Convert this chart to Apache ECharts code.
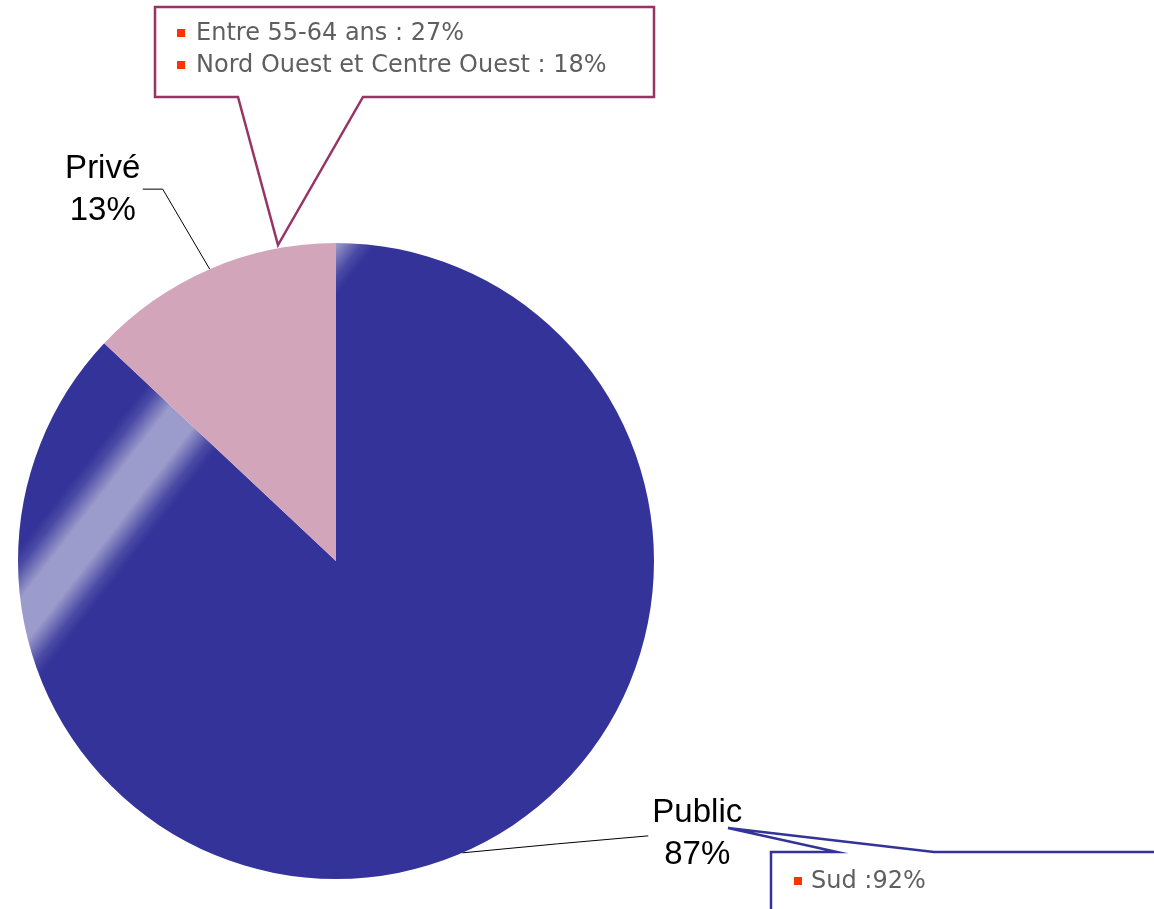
<!DOCTYPE html>
<html>
<head>
<meta charset="utf-8">
<script src="https://cdn.jsdelivr.net/npm/echarts@6/dist/echarts.min.js"></script>
<style>
html,body{margin:0;padding:0;background:#fff;}
#chart{width:1154px;height:909px;}
</style>
</head>
<body>
<div id="chart"></div>
<script>
const categories = ['Public', 'Privé'];
const values = [87, 13];
const sliceColors = ['#333399', '#D3A5BB'];
const calloutTopLines = ['Entre 55-64 ans : 27%', 'Nord Ouest et Centre Ouest : 18%'];
const calloutBottomLines = ['Sud :92%'];

const chart = echarts.init(document.getElementById('chart'), null, {renderer: 'canvas'});

const dark = '#333399', light = '#9C9CCC';
const publicFill = new echarts.graphic.LinearGradient(79.5, 470.8, 154.5, 529.2, [
  {offset: 0, color: dark},
  {offset: 0.12, color: '#4a4aa5'},
  {offset: 0.34, color: light},
  {offset: 0.66, color: light},
  {offset: 0.88, color: '#4a4aa5'},
  {offset: 1, color: dark}
], true);

const data = categories.map((c, i) => ({
  name: c,
  value: values[i],
  itemStyle: {color: i === 0 ? publicFill : sliceColors[i]}
}));

const textGrey = '#5f5f5f';
const bulletRed = '#FF3300';

chart.setOption({
  animation: false,
  series: [{
    type: 'pie',
    center: [336, 561],
    radius: 318,
    startAngle: 90,
    clockwise: true,
    avoidLabelOverlap: false,
    emphasis: {disabled: true},
    data: data,
    label: {
      show: true,
      formatter: '{b}\n{d}%',
      color: '#000',
      fontFamily: '"Liberation Sans", Arial, sans-serif',
      fontSize: 33,
      lineHeight: 42,
      align: 'center'
    },
    labelLine: {show: true, length: 60, length2: 20, lineStyle: {color: '#000', width: 1}},
    labelLayout: function (params) {
      const p0 = params.labelLinePoints[0];
      if (params.dataIndex === 0) {
        return {
          x: p0[0] + 235, y: p0[1] - 19, align: 'center', verticalAlign: 'middle',
          labelLinePoints: [p0, [p0[0] + 95, p0[1] - 9], [p0[0] + 186, p0[1] - 17]]
        };
      }
      return {
        x: p0[0] - 107, y: p0[1] - 79, align: 'center', verticalAlign: 'middle',
        labelLinePoints: [p0, [p0[0] - 47, p0[1] - 80], [p0[0] - 67, p0[1] - 80]]
      };
    }
  }],
  graphic: [
    {
      type: 'polygon', z: 100,
      shape: {points: [[155, 7], [654, 7], [654, 97], [363, 97], [278, 245], [238, 97], [155, 97]]},
      style: {fill: '#fff', stroke: '#993366', lineWidth: 2.5}
    },
    {type: 'rect', z: 101, shape: {x: 177, y: 29, width: 8, height: 8}, style: {fill: bulletRed}},
    {type: 'rect', z: 101, shape: {x: 177, y: 61, width: 8, height: 8}, style: {fill: bulletRed}},
    {type: 'text', z: 101, x: 196, y: 34, style: {text: calloutTopLines[0], fill: textGrey, font: '24px "DejaVu Sans", sans-serif', verticalAlign: 'middle'}},
    {type: 'text', z: 101, x: 196, y: 66, style: {text: calloutTopLines[1], fill: textGrey, font: '24px "DejaVu Sans", sans-serif', verticalAlign: 'middle'}},
    {
      type: 'polygon', z: 100,
      shape: {points: [[771, 920], [771, 852], [837, 852], [728, 828], [934, 852], [1170, 852], [1170, 920]]},
      style: {fill: '#fff', stroke: '#333399', lineWidth: 2.5}
    },
    {type: 'rect', z: 101, shape: {x: 794, y: 877, width: 8, height: 8}, style: {fill: bulletRed}},
    {type: 'text', z: 101, x: 811, y: 882, style: {text: calloutBottomLines[0], fill: textGrey, font: '24px "DejaVu Sans", sans-serif', verticalAlign: 'middle'}}
  ]
});
</script>
</body>
</html>
